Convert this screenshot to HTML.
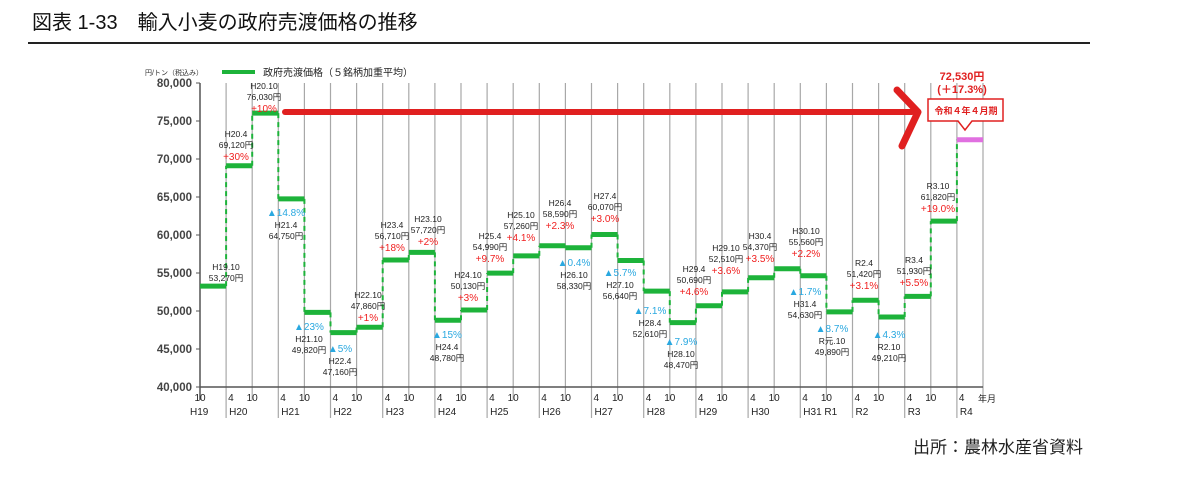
<!DOCTYPE html>
<html><head><meta charset="utf-8"><style>
html,body{margin:0;padding:0;background:#fff;width:1200px;height:503px;overflow:hidden}
svg{display:block}
text{font-family:"Liberation Sans","Noto Sans CJK JP",sans-serif}
</style></head><body>
<svg id="chart" width="1200" height="503" viewBox="0 0 1200 503" xmlns="http://www.w3.org/2000/svg">
<text x="32" y="29" font-size="20" fill="#111" font-weight="normal">図表 1-33　輸入小麦の政府売渡価格の推移</text>
<line x1="28" y1="43" x2="1090" y2="43" stroke="#222" stroke-width="2"/>
<text x="1083" y="453" font-size="17" text-anchor="end" fill="#222">出所：農林水産省資料</text>
<text x="145" y="75" font-size="7" fill="#333">円/トン（税込み）</text>
<line x1="222" y1="72" x2="255" y2="72" stroke="#1db33a" stroke-width="4"/>
<text x="263" y="76" font-size="10" fill="#222">政府売渡価格（５銘柄加重平均）</text>
<g id="grid"></g><g id="axes"></g><g id="series"></g><g id="notes"></g>
<text x="978" y="402" font-size="9" fill="#222">年月</text>
<g>
<line x1="285" y1="112" x2="912" y2="112" stroke="#e02020" stroke-width="6" stroke-linecap="round"/>
<polyline points="897,90 918,112 902,146" fill="none" stroke="#e02020" stroke-width="7" stroke-linecap="round" stroke-linejoin="round"/>
<text x="962" y="80" font-size="11" font-weight="bold" text-anchor="middle" fill="#e02020">72,530円</text>
<text x="962" y="93" font-size="11" font-weight="bold" text-anchor="middle" fill="#e02020">(＋17.3%)</text>
<polygon points="928,99 1003,99 1003,121 972,121 965,130 958,121 928,121" fill="#fff" stroke="#e02020" stroke-width="1.5"/>
<text x="966" y="114" font-size="9" font-weight="bold" text-anchor="middle" fill="#e02020">令和４年４月期</text>
</g>
</svg>
<script>
const categories=["H19.10","H20.4","H20.10","H21.4","H21.10","H22.4","H22.10","H23.4","H23.10","H24.4","H24.10","H25.4","H25.10","H26.4","H26.10","H27.4","H27.10","H28.4","H28.10","H29.4","H29.10","H30.4","H30.10","H31.4","R元.10","R2.4","R2.10","R3.4","R3.10","R4.4"];
const prices=[53270,69120,76030,64750,49820,47160,47860,56710,57720,48780,50130,54990,57260,58590,58330,60070,56640,52610,48470,50690,52510,54370,55560,54630,49890,51420,49210,51930,61820,72530];
const changes=["","+30%","+10%","▲14.8%","▲23%","▲5%","+1%","+18%","+2%","▲15%","+3%","+9.7%","+4.1%","+2.3%","▲0.4%","+3.0%","▲5.7%","▲7.1%","▲7.9%","+4.6%","+3.6%","+3.5%","+2.2%","▲1.7%","▲8.7%","+3.1%","▲4.3%","+5.5%","+19.0%",""];
const yTicks=[40000,45000,50000,55000,60000,65000,70000,75000,80000];
const yTickLabels=["40,000","45,000","50,000","55,000","60,000","65,000","70,000","75,000","80,000"];
const yearLabels=["H19","H20","H21","H22","H23","H24","H25","H26","H27","H28","H29","H30","H31 R1","R2","R3","R4"];
const noteLayout=[[226,270,0],[236,137,1],[264,89,1],[286,215,2],[309,329,2],[340,351,2],[368,298,1],[392,228,1],[428,222,1],[447,337,2],[468,278,1],[490,239,1],[521,218,1],[560,206,1],[574,265,2],[605,199,1],[620,275,2],[650,313,2],[681,344,2],[694,272,1],[726,251,1],[760,239,1],[806,234,1],[805,294,2],[832,331,2],[864,266,1],[889,337,2],[914,263,1],[938,189,1],[0,0,-1]];
const NS="http://www.w3.org/2000/svg";
const X0=200,DX=26.1,Y0=387,Y1=83,VMIN=40000,VMAX=80000;
const xs=i=>X0+i*DX;
const ys=v=>Y0-(v-VMIN)/(VMAX-VMIN)*(Y0-Y1);
function mk(tag,attrs,parent){const e=document.createElementNS(NS,tag);for(const k in attrs)e.setAttribute(k,attrs[k]);parent.appendChild(e);return e;}
const grid=document.getElementById('grid'),axes=document.getElementById('axes'),series=document.getElementById('series'),notes=document.getElementById('notes');
const n=categories.length;
for(let i=0;i<=n;i++){
  const x=xs(i);
  const isYear=(i%2===1);
  const l=mk('line',{x1:x,y1:Y1,x2:x,y2:isYear?418:400,stroke:i===0?'#555':'#a8a8a8','stroke-width':i===0?1.5:1.2},grid);
  
  
  if(i<n){
    const t=mk('text',{x:x+(isYear?2:0),y:401,'font-size':10,'text-anchor':isYear?'start':'middle',fill:'#222'},axes);
    t.textContent=isYear?'4':'10';
    
    
  }
}
yearLabels.forEach((lab,k)=>{
  const x=k===0?xs(0)-10:xs(2*k-1)+3;
  const t=mk('text',{x:x,y:415,'font-size':10,fill:'#222'},axes);
  t.textContent=lab;
  
  
});
mk('line',{x1:X0,y1:Y0,x2:xs(n),y2:Y0,stroke:'#555','stroke-width':1.5},axes);
yTicks.forEach((v,k)=>{
  const y=ys(v);
  mk('line',{x1:X0-4,y1:y,x2:X0,y2:y,stroke:'#555'},axes);
  const t=mk('text',{x:X0-8,y:y+4,'font-size':11.5,'font-weight':'bold','text-anchor':'end',fill:'#444'},axes);
  t.textContent=yTickLabels[k];
  
  
});
prices.forEach((v,i)=>{
  const y=ys(v);
  if(i>0){
    const d=mk('line',{x1:xs(i),y1:ys(prices[i-1]),x2:xs(i),y2:y,stroke:'#1db33a','stroke-width':2,'stroke-dasharray':'5,4'},series);
    
    
  }
  const last=i===n-1;
  const s=mk('line',{x1:xs(i),y1:y,x2:xs(i+1),y2:y,stroke:last?'#e070e0':'#1db33a','stroke-width':5},series);
  
  
});
function fmt(v){return v.toLocaleString('en-US')+'円';}
categories.forEach((c,i)=>{
  const L=noteLayout[i];if(L[2]<0)return;
  const lines=[];
  const pct=changes[i];
  if(L[2]===2&&pct)lines.push([pct,'pct']);
  lines.push([c,'lab']);lines.push([fmt(prices[i]),'lab']);
  if(L[2]===1&&pct)lines.push([pct,'pct']);
  let y=L[1];
  lines.forEach(([txt,kind])=>{
    const isP=kind==='pct';
    const col=isP?(txt[0]==='▲'?'#29a8e0':'#f02020'):'#222';
    const t=mk('text',{x:L[0],y:y+(isP?1:0),'font-size':isP?10:8.5,'text-anchor':'middle',fill:col},notes);
    t.textContent=txt;
    
    
    y+=isP?13:11;
  });
});
</script>
</body></html>
